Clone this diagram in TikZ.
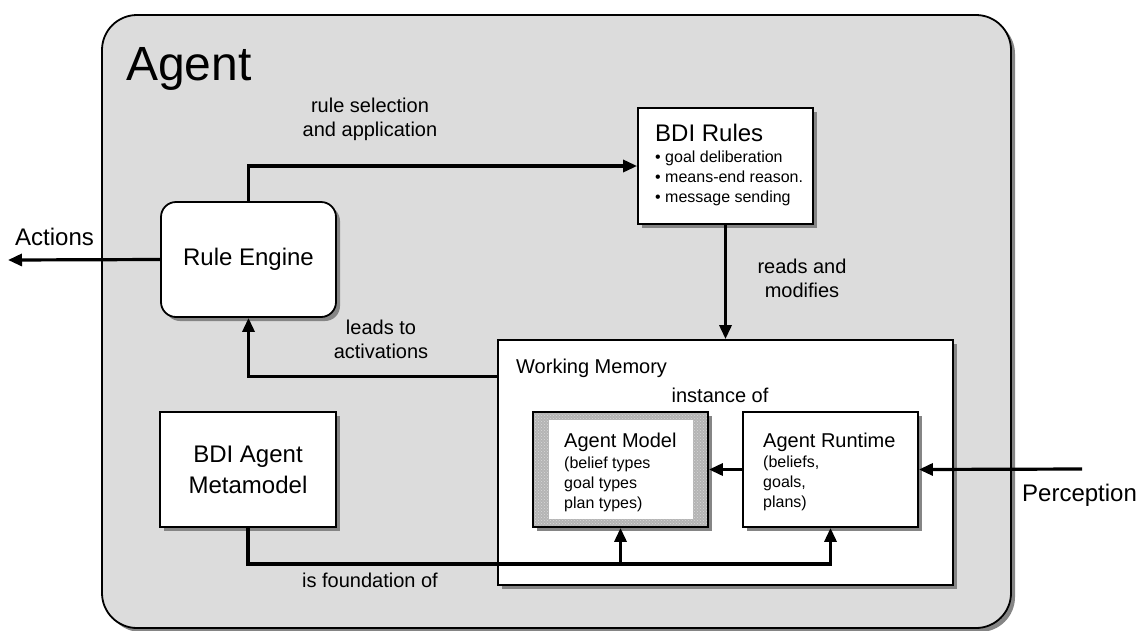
\documentclass[tikz,border=0pt]{standalone}
\usepackage{fontspec}
\setmainfont{Liberation Sans}
\usetikzlibrary{arrows.meta,shadows,patterns,calc}

\definecolor{agentbg}{HTML}{DCDCDC}
\definecolor{shadowgray}{HTML}{858585}
\definecolor{hatchgray}{HTML}{B4B4B4}

\tikzset{
  box/.style={draw=black, line width=1.8pt, fill=white, inner sep=0pt,
    drop shadow={shadow xshift=4pt, shadow yshift=-4pt, fill=shadowgray, opacity=1}},
  conn/.style={line width=3.2pt, line join=miter, -{Triangle[length=14pt,width=12pt]}},
  big/.style={font=\fontsize{24}{31}\selectfont},
  mid/.style={font=\fontsize{20}{24}\selectfont},
  small/.style={font=\fontsize{16}{20}\selectfont},
  txt/.style={inner sep=0pt, anchor=base west},
}

\begin{document}
\begin{tikzpicture}[x=1pt, y=-1pt]
\useasboundingbox (0,0) rectangle (1139,630);

% outer agent container
\node[box, fill=agentbg, rounded corners=35pt, minimum width=909pt, minimum height=613pt]
  (agent) at (556.5,321.5) {};
\node[txt, font=\fontsize{48}{56}\selectfont] (agenttitle) at (126,80) {Agent};

% rule engine and rule base
\node[box, rounded corners=15pt, minimum width=175pt, minimum height=115pt, big]
  (re) at (248.5,259.5) {Rule Engine};

\node[box, minimum width=175pt, minimum height=116pt] (bdi) at (725.5,166) {};
\node[txt, big] (bdititle) at (655,141) {BDI Rules};
\node[txt, small] (bdilist) at (655,162)
  {\parbox[t]{150pt}{\raggedright • goal deliberation\\• means-end reason.\\• message sending}};

% working memory with model and runtime
\node[box, minimum width=455pt, minimum height=245pt] (wm) at (725.5,462.5) {};
\node[txt, mid] (wmtitle) at (516,373) {Working Memory};

\node[box, preaction={fill=hatchgray}, pattern=crosshatch dots, pattern color=black!15,
  minimum width=175pt, minimum height=115pt] (am) at (620.5,469.5) {};
\node[fill=white, inner sep=0pt, minimum width=144pt, minimum height=99pt] (amin) at (621,469.5) {};
\node[txt, mid] (amtitle) at (564,447) {Agent Model};
\node[txt, small] (amtext) at (564,468)
  {\parbox[t]{130pt}{\raggedright (belief types\\goal types\\plan types)}};

\node[box, minimum width=175pt, minimum height=115pt] (rt) at (830.5,469.5) {};
\node[txt, mid] (rttitle) at (763,447) {Agent Runtime};
\node[txt, small] (rttext) at (763,467)
  {\parbox[t]{130pt}{\raggedright (beliefs,\\goals,\\plans)}};

\node[box, minimum width=176pt, minimum height=115pt, big, align=center]
  (mm) at (248,469.5) {BDI Agent\\Metamodel};

% outside world
\node[txt, big] (actions) at (15,245) {Actions};
\node[txt, big] (perception) at (1022,501) {Perception};
\coordinate (actend) at (8,260);
\coordinate (percstart) at (1082,469);
\coordinate (bus) at (248,564);

% connectors
\draw[conn] (re.north) |- (bdi.west);
\draw[conn] (bdi.south) -- (wm.north);
\draw[conn] ($(wm.north west)+(0,37)$) -| (re.south);
\draw[conn] (re.west) -- (actend);
\draw[conn] (percstart) -- (rt.east);
\draw[conn] (rt.west) -- (am.east);
\draw[conn] (mm.south) |- (rt.south |- bus) -- (rt.south);
\draw[conn] (am.south |- bus) -- (am.south);

% connector labels
\node[mid, align=center] (lrule) at (370,119) {rule selection\\and application};
\node[mid, align=center] (lreads) at (802,278) {reads and\\modifies};
\node[mid, align=center] (lleads) at (381,339) {leads to\\activations};
\node[mid] (lfound) at (370,580) {is foundation of};
\node[mid] (linst) at (720,395) {instance of};
\end{tikzpicture}
\end{document}
